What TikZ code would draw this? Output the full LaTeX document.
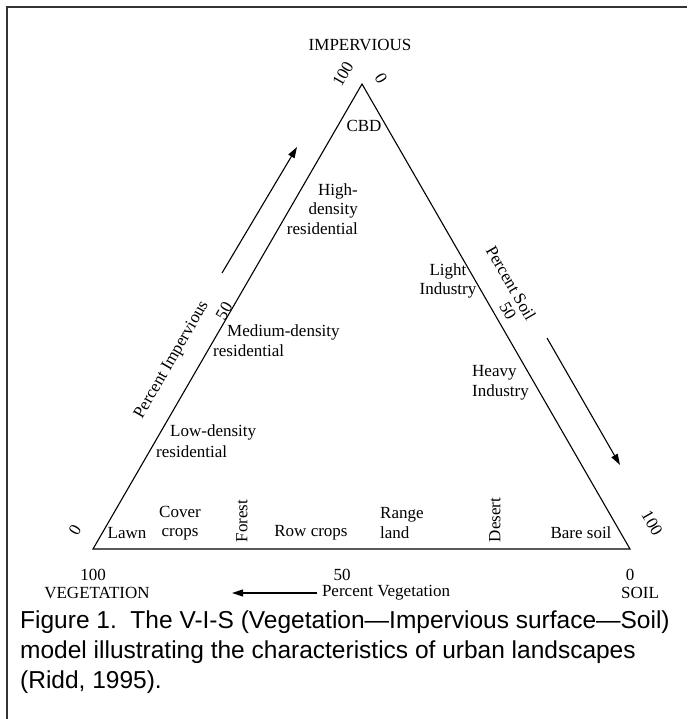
\documentclass[tikz,border=0pt]{standalone}
\usepackage{fontspec}
\setmainfont{Liberation Serif}
\newfontfamily\capfont{Liberation Sans}
\usetikzlibrary{arrows.meta}
\begin{document}
\begin{tikzpicture}[x=1pt,y=-1pt,
  lbl/.style={inner sep=0pt,font=\fontsize{17}{19.5}\selectfont},
  captext/.style={inner sep=0pt,anchor=west,font=\capfont\fontsize{24.5}{29}\selectfont},
  edgeline/.style={line width=1.1pt,line join=miter},
  framelines/.style={line width=2pt,black!80},
  dirarrow/.style={line width=1.1pt,-{Triangle[length=11pt,width=7pt]}}]
\useasboundingbox (0,0) rectangle (687,719);
% frame
\coordinate (fTR) at (687,7);
\coordinate (fTL) at (7,7);
\coordinate (fBL) at (7,719);
\draw[framelines] (fTR) -- (fTL) -- (fBL);
% triangle
\coordinate (A) at (362,84);
\coordinate (V) at (93,549);
\coordinate (S) at (630,549);
\draw[edgeline] (V) -- (A) -- (S) -- cycle;
% apex labels
\node[lbl] (imp) at (360,45) {IMPERVIOUS};
\node[lbl,rotate=60] (n100a) at (343,74) {100};
\node[lbl,rotate=-60] (n0a) at (381,78) {0};
\node[lbl] (cbd) at (364,126) {CBD};
% left side
\node[lbl,align=right,anchor=east] (high) at (358,209) {High-\\density\\residential};
\node[lbl,rotate=60] (pimp) at (172,360) {Percent Impervious};
\node[lbl,rotate=60] (n50l) at (224,311) {50};
\node[lbl,anchor=west] (med1) at (227,332) {Medium-density};
\node[lbl,anchor=west] (med2) at (213,351) {residential};
\node[lbl,anchor=west] (low1) at (170,432) {Low-density};
\node[lbl,anchor=west] (low2) at (156,452) {residential};
\coordinate (ia1) at (222,273);
\coordinate (ia2) at (297,147);
\draw[dirarrow] (ia1) -- (ia2);
% right side
\node[lbl,align=center] (light) at (448,281) {Light\\Industry};
\node[lbl,rotate=-60] (psoil) at (511,283) {Percent Soil};
\node[lbl,rotate=-60] (n50r) at (508,311) {50};
\node[lbl,align=left,anchor=west] (heavy) at (472,383) {Heavy\\Industry};
\coordinate (sa1) at (547,338);
\coordinate (sa2) at (620,465);
\draw[dirarrow] (sa1) -- (sa2);
% bottom row
\node[lbl,rotate=60] (n0l) at (75,530) {0};
\node[lbl] (lawn) at (127,533) {Lawn};
\node[lbl,align=center] (cover) at (180,523) {Cover\\crops};
\node[lbl,rotate=90] (forest) at (242,521) {Forest};
\node[lbl] (row) at (311,533) {Row crops};
\node[lbl,align=left,anchor=west] (range) at (380,523) {Range\\land};
\node[lbl,rotate=90] (desert) at (495,520) {Desert};
\node[lbl] (bare) at (581,533) {Bare soil};
\node[lbl,rotate=-60] (n100r) at (652,523) {100};
% below base
\node[lbl] (n100b) at (93,575) {100};
\node[lbl] (veg) at (97,593) {VEGETATION};
\node[lbl] (n50b) at (342,575) {50};
\node[lbl] (pveg) at (386,593) {Percent Vegetation};
\node[lbl] (n0b) at (630,575) {0};
\node[lbl] (soil) at (640,593) {SOIL};
\coordinate (va1) at (317,593);
\coordinate (va2) at (232,593);
\draw[dirarrow] (va1) -- (va2);
% caption
\node[captext] (c1) at (20,622) {Figure 1.\ \ The V-I-S (Vegetation—Impervious surface—Soil)};
\node[captext] (c2) at (20,652) {model illustrating the characteristics of urban landscapes};
\node[captext] (c3) at (20,682) {(Ridd, 1995).};
\end{tikzpicture}
\end{document}
